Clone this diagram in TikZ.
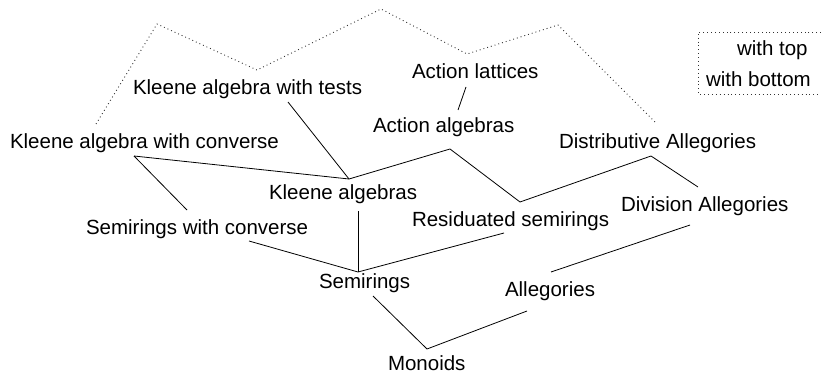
\documentclass[tikz,border=0pt]{standalone}
\usepackage{fontspec}
\setmainfont{Liberation Sans}
\begin{document}
\begin{tikzpicture}[x=1pt,y=-1pt,
  lbl/.style={anchor=base west,inner sep=0pt,outer sep=0pt,font=\fontsize{20.5}{24}\selectfont},
  conn/.style={draw=black,line width=0.8pt},
  dots/.style={draw=black!80,line width=0.9pt,dash pattern=on 0.9pt off 3pt}]
\useasboundingbox (0,0) rectangle (821,374);
% labels
\node[lbl] (kat) at (133,95) {Kleene algebra with tests};
\node[lbl] (al) at (412,79) {Action lattices};
\node[lbl] (aa) at (373,133) {Action algebras};
\node[lbl] (kac) at (10,148.5) {Kleene algebra with converse};
\node[lbl] (dista) at (559,149) {Distributive Allegories};
\node[lbl] (ka) at (269,200) {Kleene algebras};
\node[lbl] (swc) at (86,234) {Semirings with converse};
\node[lbl] (rs) at (412,226) {Residuated semirings};
\node[lbl] (diva) at (621,211) {Division Allegories};
\node[lbl] (semi) at (319,288) {Semirings};
\node[lbl] (alleg) at (505,296) {Allegories};
\node[lbl] (mon) at (388,370) {Monoids};
\node[lbl] (wtop) at (737,56) {with top};
\node[lbl] (wbot) at (706,87) {with bottom};
% junction coordinates
\coordinate (jKAT) at (288,102);
\coordinate (jKA) at (349,179);
\coordinate (jKAC) at (134,156);
\coordinate (jSwCtop) at (187,210);
\coordinate (jAA) at (450,149);
\coordinate (jRStop) at (520,202);
\coordinate (jDistA) at (651,156);
\coordinate (jDivtop) at (698,187);
\coordinate (jAL) at (466,87);
\coordinate (jAAtop) at (458,110);
\coordinate (jKAbot) at (358,211);
\coordinate (jSemi) at (358,272);
\coordinate (jSwCbot) at (249,241);
\coordinate (jRSbot) at (504,233);
\coordinate (jDivbot) at (690,225);
\coordinate (jAllTop) at (551,272);
\coordinate (jSemiBot) at (373,296);
\coordinate (jMon) at (427,349);
\coordinate (jAllBot) at (527,311);
% connectors
\draw[conn] (jKAT) -- (jKA);
\draw[conn] (jKAC) -- (jKA);
\draw[conn] (jKAC) -- (jSwCtop);
\draw[conn] (jKA) -- (jAA) -- (jRStop) -- (jDistA) -- (jDivtop);
\draw[conn] (jAL) -- (jAAtop);
\draw[conn] (jKAbot) -- (jSemi);
\draw[conn] (jSwCbot) -- (jSemi) -- (jRSbot);
\draw[conn] (jDivbot) -- (jAllTop);
\draw[conn] (jSemiBot) -- (jMon) -- (jAllBot);
% dotted region
\draw[dots] (96,124) -- (157,24) -- (257,70) -- (381,9) -- (467,54) -- (558,25) -- (657,124);
\draw[dots] (821,32) -- (698,32) -- (698,94) -- (821,94);
\end{tikzpicture}
\end{document}
